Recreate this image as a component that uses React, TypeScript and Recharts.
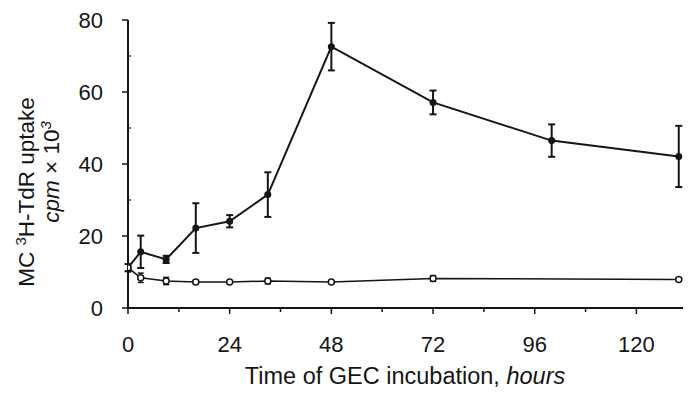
import { ErrorBar, Line, LineChart, XAxis, YAxis } from "recharts"

// GEC-stimulated mesangial cells (filled dots)
const stimHours = [0, 3, 9, 16, 24, 33, 48, 72, 100, 130]
const stimUptake = [11.2, 15.6, 13.5, 22.2, 24.1, 31.5, 72.6, 57.1, 46.5, 42.1]
const stimError = [1, 4.5, 1, 6.9, 1.7, 6.2, 6.6, 3.3, 4.5, 8.5]

// control (open dots)
const ctrlHours = [0, 3, 9, 16, 24, 33, 48, 72, 130]
const ctrlUptake = [11.2, 8.4, 7.5, 7.2, 7.2, 7.5, 7.2, 8.2, 7.9]
const ctrlError = [1, 1.3, 1, 0.5, 0, 0.8, 0, 0.8, 0]

const xTicks = [0, 12, 24, 36, 48, 60, 72, 84, 96, 108, 120]
const yTicks = [0, 10, 20, 30, 40, 50, 60, 70, 80]

const INK = "#151515"
const FONT = "'Liberation Sans', Arial, Helvetica, sans-serif"

const stimData = stimHours.map((h, i) => ({ hours: h, uptake: stimUptake[i], err: stimError[i] }))
const ctrlData = ctrlHours.map((h, i) => ({ hours: h, uptake: ctrlUptake[i], err: ctrlError[i] }))

function XTick({ x, y, payload }: any) {
    const major = payload.value % 24 === 0
    return (
        <g>
            <line x1={x} x2={x} y1={y} y2={y + (major ? 6 : 4)} stroke={INK} strokeWidth={1.5} />
            {major && (
                <text x={x} y={y + 44} textAnchor="middle" fontSize={22} fill={INK} fontFamily={FONT}>
                    {payload.value}
                </text>
            )}
        </g>
    )
}

function YTick({ x, y, payload }: any) {
    const major = payload.value % 20 === 0
    return (
        <g>
            {major ? (
                <line x1={x - 6} x2={x} y1={y} y2={y} stroke={INK} strokeWidth={1.5} />
            ) : (
                <line x1={x} x2={x + 3} y1={y} y2={y} stroke={INK} strokeWidth={1.2} />
            )}
            {major && (
                <text x={x - 25} y={y + 8} textAnchor="end" fontSize={22} fill={INK} fontFamily={FONT}>
                    {payload.value}
                </text>
            )}
        </g>
    )
}

function YTitle() {
    return (
        <g fontFamily={FONT} fontSize={22.5} fill={INK}>
            <text transform="translate(34, 192) rotate(-90)" textAnchor="middle">
                MC <tspan fontSize={15} dy={-8}>3</tspan>
                <tspan dy={8}>H-TdR uptake</tspan>
            </text>
            <text transform="translate(59, 172) rotate(-90)" textAnchor="middle">
                <tspan fontStyle="italic">cpm</tspan> × 10
                <tspan fontStyle="italic" fontSize={15} dy={-8}>3</tspan>
            </text>
        </g>
    )
}

function XTitle() {
    return (
        <text x={405} y={384} textAnchor="middle" fontFamily={FONT} fontSize={23.5} fill={INK}>
            Time of GEC incubation, <tspan fontStyle="italic">hours</tspan>
        </text>
    )
}

function FilledDot({ cx, cy }: any) {
    return <circle cx={cx} cy={cy} r={3.5} fill={INK} />
}

function OpenDot({ cx, cy }: any) {
    return <circle cx={cx} cy={cy} r={3} fill="#fff" stroke={INK} strokeWidth={1.5} />
}

export default function App() {
    return (
        <div style={{ position: "absolute", left: 0, top: 0, background: "#fff" }}>
            <LineChart width={691} height={393} margin={{ top: 20, right: 8, bottom: 0, left: 0 }}>
                <XAxis
                    type="number"
                    dataKey="hours"
                    domain={[0, 131]}
                    allowDataOverflow
                    ticks={xTicks}
                    interval={0}
                    height={85}
                    tickSize={0}
                    tickMargin={0}
                    tickLine={false}
                    tick={<XTick />}
                    axisLine={{ stroke: INK, strokeWidth: 2 }}
                    label={{ content: () => <XTitle /> }}
                />
                <YAxis
                    type="number"
                    domain={[0, 80]}
                    ticks={yTicks}
                    interval={0}
                    width={128}
                    tickSize={0}
                    tickMargin={0}
                    tickLine={false}
                    tick={<YTick />}
                    axisLine={{ stroke: INK, strokeWidth: 2 }}
                    label={{ content: () => <YTitle /> }}
                />
                <Line
                    data={stimData}
                    dataKey="uptake"
                    type="linear"
                    stroke={INK}
                    strokeWidth={2}
                    dot={<FilledDot />}
                    activeDot={false}
                    isAnimationActive={false}
                >
                    <ErrorBar dataKey="err" direction="y" width={3.5} stroke={INK} strokeWidth={2} isAnimationActive={false} />
                </Line>
                <Line
                    data={ctrlData}
                    dataKey="uptake"
                    type="linear"
                    stroke={INK}
                    strokeWidth={1.5}
                    dot={<OpenDot />}
                    activeDot={false}
                    isAnimationActive={false}
                >
                    <ErrorBar dataKey="err" direction="y" width={3} stroke={INK} strokeWidth={1.5} isAnimationActive={false} />
                </Line>
            </LineChart>
        </div>
    )
}
